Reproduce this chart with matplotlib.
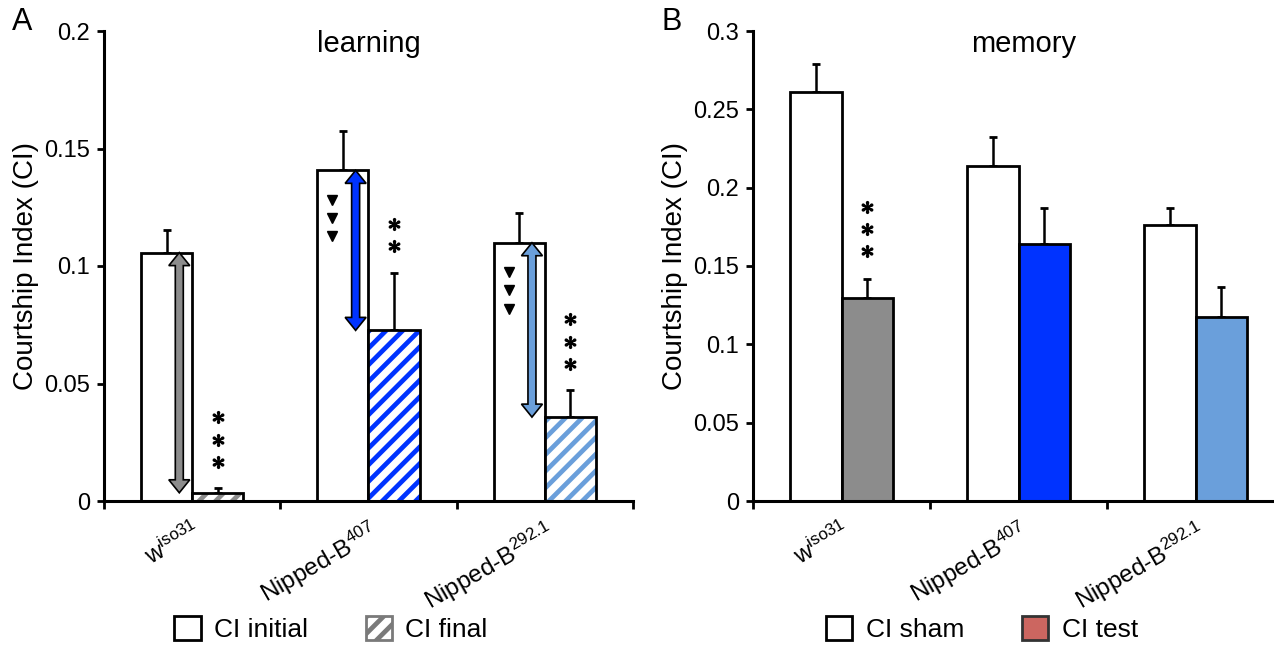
import matplotlib
matplotlib.use("Agg")
import matplotlib.pyplot as plt
from matplotlib.patches import Patch, Polygon
from matplotlib.ticker import FuncFormatter, FixedLocator
import numpy as np

plt.rcParams['font.family'] = ['Liberation Sans', 'DejaVu Sans']
plt.rcParams['hatch.linewidth'] = 3.4
plt.rcParams['mathtext.default'] = 'regular'

# ---------------- data ----------------
genotypes = [r'w$^{\mathregular{iso31}}$', r'Nipped-B$^{\mathregular{407}}$',
             r'Nipped-B$^{\mathregular{292.1}}$']
group_colors = ['#8C8C8C', '#0033FF', '#6A9FDB']

learn_initial = [0.1057, 0.1407, 0.1099]
learn_initial_err = [0.0095, 0.0167, 0.0125]
learn_final = [0.0035, 0.0726, 0.0357]
learn_final_err = [0.0019, 0.0246, 0.0114]
learn_triangles = [0, 3, 3]          # number of ▼ markers per group
learn_stars = [3, 2, 3]              # number of * above final bars

mem_sham = [0.2613, 0.2138, 0.1762]
mem_sham_err = [0.0178, 0.0185, 0.0106]
mem_test = [0.1298, 0.1638, 0.1174]
mem_test_err = [0.0121, 0.0230, 0.0192]
mem_stars = [3, 0, 0]

learn_yticks = [0, 0.05, 0.1, 0.15, 0.2]
mem_yticks = [0, 0.05, 0.1, 0.15, 0.2, 0.25, 0.3]

# ---------------- figure ----------------
W, H = 1274, 645
fig = plt.figure(figsize=(W / 100, H / 100), dpi=100)

def px_axes(x0, x1, ytop, ybot):
    return fig.add_axes([x0 / W, 1 - ybot / H, (x1 - x0) / W, (ybot - ytop) / H])

axA = px_axes(104, 633, 31, 501)
axB = px_axes(753, 1284, 31, 501)

bw = 0.29
x = np.arange(3)
fmt = FuncFormatter(lambda v, p: f'{v:g}')


def style_axes(ax, ymax, yticks):
    ax.set_xlim(-0.5, 2.5)
    ax.set_ylim(0, ymax)
    for s in ['top', 'right']:
        ax.spines[s].set_visible(False)
    for s in ['left', 'bottom']:
        ax.spines[s].set_linewidth(2.2)
    ax.set_yticks(yticks)
    ax.yaxis.set_major_formatter(fmt)
    ax.tick_params(axis='y', direction='out', length=5, width=2, labelsize=17, pad=5)
    ax.set_xticks(x)
    ax.set_xticklabels(genotypes, rotation=30, ha='right', rotation_mode='anchor', fontsize=17.5)
    ax.tick_params(axis='x', which='major', length=0, pad=12)
    ax.xaxis.set_minor_locator(FixedLocator([-0.5, 0.5, 1.5, 2.5]))
    ax.tick_params(axis='x', which='minor', direction='out', length=6, width=2)
    ax.set_ylabel('Courtship Index (CI)', fontsize=20, labelpad=4)


def errbars(ax, xs, vals, errs):
    ax.errorbar(xs, vals, yerr=[np.zeros(len(errs)), errs], fmt='none', ecolor='black',
                elinewidth=1.8, capsize=3, capthick=2, zorder=1)


def dbl_arrow(ax, xc, y0, y1, color):
    p0 = ax.transData.transform((0, 0))
    p1 = ax.transData.transform((1, 1))
    sx, sy = p1[0] - p0[0], p1[1] - p0[1]
    hw, sw, hl = 10.5 / sx, 4 / sx, 13 / sy
    top, bot = max(y0, y1), min(y0, y1)
    pts = [(xc, top), (xc + hw, top - hl), (xc + sw, top - hl), (xc + sw, bot + hl),
           (xc + hw, bot + hl), (xc, bot), (xc - hw, bot + hl), (xc - sw, bot + hl),
           (xc - sw, top - hl), (xc - hw, top - hl)]
    ax.add_patch(Polygon(pts, closed=True, fc=color, ec='black', lw=1.2, zorder=5))


def stars(ax, xc, ybase, n, step):
    if n:
        ys = ybase + step * (np.arange(n) + 1)
        ax.plot([xc] * n, ys, ls='none', marker=r'$\ast$', ms=8.5, color='black', zorder=6)


# ---------------- panel A: learning ----------------
style_axes(axA, 0.2, learn_yticks)
errbars(axA, x - bw / 2, learn_initial, learn_initial_err)
errbars(axA, x + bw / 2, learn_final, learn_final_err)
axA.bar(x - bw / 2, learn_initial, bw, color='white', edgecolor='black', linewidth=2, zorder=2)
for i in range(3):
    axA.bar(x[i] + bw / 2, learn_final[i], bw, color='white', edgecolor=group_colors[i],
            hatch='//', linewidth=0, zorder=2)
axA.bar(x + bw / 2, learn_final, bw, fill=False, edgecolor='black', linewidth=2, zorder=3)

for i in range(3):
    dbl_arrow(axA, x[i] - 0.073, learn_initial[i], learn_final[i], group_colors[i])
    n = learn_triangles[i]
    if n:
        ys = learn_initial[i] - 0.0125 - 0.0078 * np.arange(n)
        axA.plot([x[i] - 0.205] * n, ys, ls='none', marker='v', ms=7.5, color='black', zorder=6)
    stars(axA, x[i] + bw / 2, learn_final[i] + learn_final_err[i] + 0.0015, learn_stars[i], 0.0096)

axA.text(0.5, 0.972, 'learning', transform=axA.transAxes, ha='center', va='center', fontsize=21)
fig.text(22 / W, 1 - 22 / H, 'A', ha='center', va='center', fontsize=22)

# ---------------- panel B: memory ----------------
style_axes(axB, 0.3, mem_yticks)
errbars(axB, x - bw / 2, mem_sham, mem_sham_err)
errbars(axB, x + bw / 2, mem_test, mem_test_err)
axB.bar(x - bw / 2, mem_sham, bw, color='white', edgecolor='black', linewidth=2, zorder=2)
axB.bar(x + bw / 2, mem_test, bw, color=group_colors, edgecolor='black', linewidth=2, zorder=2)
for i in range(3):
    stars(axB, x[i] + bw / 2, mem_test[i] + mem_test_err[i] + 0.0037, mem_stars[i], 0.014)

axB.text(0.51, 0.972, 'memory', transform=axB.transAxes, ha='center', va='center', fontsize=21)
fig.text(672 / W, 1 - 22 / H, 'B', ha='center', va='center', fontsize=22)

# ---------------- legends ----------------
legA = [Patch(facecolor='white', edgecolor='black', linewidth=2),
        Patch(facecolor='white', edgecolor='#7a7a7a', hatch='//', linewidth=2)]
fig.legend(legA, ['CI initial', 'CI final'], loc='center', bbox_to_anchor=(331 / W, 1 - 629 / H),
           ncol=2, frameon=False, fontsize=19, handlelength=1.0, handleheight=1.0,
           columnspacing=2.2, handletextpad=0.5)
legB = [Patch(facecolor='white', edgecolor='black', linewidth=2),
        Patch(facecolor='#CC6660', edgecolor='#333333', linewidth=2)]
fig.legend(legB, ['CI sham', 'CI test'], loc='center', bbox_to_anchor=(982 / W, 1 - 629 / H),
           ncol=2, frameon=False, fontsize=19, handlelength=1.0, handleheight=1.0,
           columnspacing=2.2, handletextpad=0.5)

fig.savefig('out.png', dpi=100)
